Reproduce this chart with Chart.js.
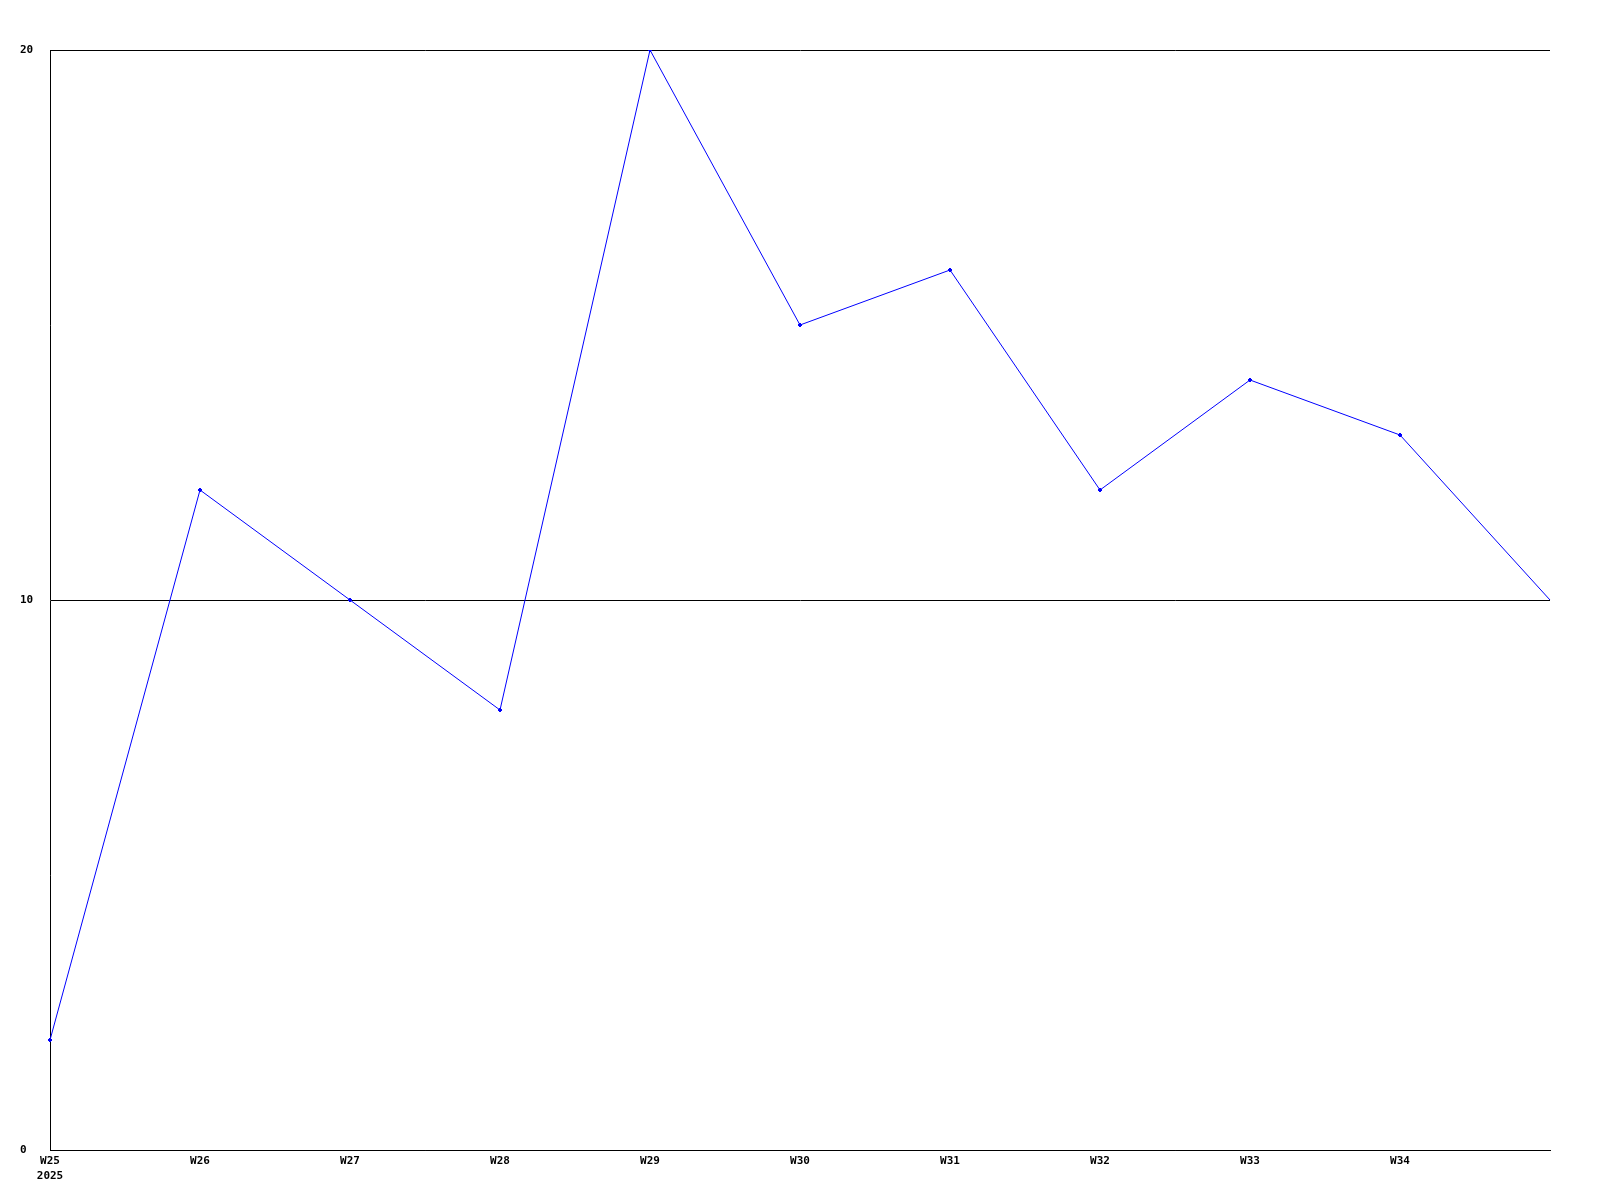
<!DOCTYPE html>
<html>
<head>
<meta charset="utf-8">
<style>
  html, body { margin: 0; padding: 0; background: #ffffff; }
  #wrap { width: 1600px; height: 1200px; }
  canvas { display: block; }
</style>
<script src="https://cdn.jsdelivr.net/npm/chart.js@4/dist/chart.umd.min.js"></script>
</head>
<body>
<div id="wrap"><canvas id="c" width="1600" height="1200"></canvas></div>
<script>
const weeks = ['W25', 'W26', 'W27', 'W28', 'W29', 'W30', 'W31', 'W32', 'W33', 'W34', ''];
const firstYear = '2025';
const values = [2, 12, 10, 8, 20, 15, 16, 12, 14, 13, 10];
const yMin = 0;
const yMax = 20;
const yStep = 10;

const labels = weeks.map((w, i) => i === 0 ? [w, firstYear] : w);

const tickFont = { family: 'DejaVu Sans Mono', size: 11, weight: 'bold', lineHeight: 1.36 };

new Chart(document.getElementById('c'), {
  type: 'line',
  data: {
    labels: labels,
    datasets: [{
      data: values,
      borderColor: '#0000ff',
      backgroundColor: '#0000ff',
      borderWidth: 1,
      tension: 0,
      fill: false,
      pointStyle: 'rectRot',
      pointRadius: (ctx) => ctx.dataIndex === values.length - 1 ? 0 : 2,
      pointBorderWidth: 1,
      pointBackgroundColor: '#0000ff',
      pointBorderColor: '#0000ff'
    }]
  },
  options: {
    responsive: false,
    animation: false,
    devicePixelRatio: 1,
    layout: { padding: { left: 20, right: 50, top: 50, bottom: 0 } },
    plugins: { legend: { display: false }, tooltip: { enabled: false } },
    scales: {
      x: {
        type: 'category',
        offset: false,
        grid: { display: false, drawTicks: false },
        border: { display: true, color: '#000000', width: 1 },
        ticks: {
          color: '#000000',
          font: tickFont,
          autoSkip: false,
          maxRotation: 0,
          minRotation: 0,
          padding: 4
        },
        afterFit: (s) => { s.height = 50; }
      },
      y: {
        min: yMin,
        max: yMax,
        grid: { display: true, color: '#000000', lineWidth: 1, drawTicks: false },
        border: { display: true, color: '#000000', width: 1 },
        ticks: {
          stepSize: yStep,
          color: '#000000',
          font: tickFont,
          crossAlign: 'far',
          padding: 0
        },
        afterFit: (s) => { s.width = 30; }
      }
    }
  }
});
</script>
</body>
</html>
